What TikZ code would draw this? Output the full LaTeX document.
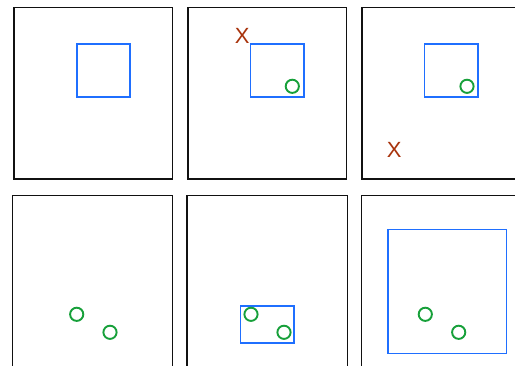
\documentclass[tikz,border=0pt]{standalone}
\usepackage{fontspec}
\newfontfamily\xfont{Liberation Sans}
\definecolor{frameblk}{HTML}{111111}
\definecolor{boxblue}{HTML}{1F6FFF}
\definecolor{ringgreen}{HTML}{17A03A}
\definecolor{xred}{HTML}{A8330C}
\tikzset{
  panel/.style={draw=frameblk, line width=1.2pt},
  bluebox/.style={draw=boxblue, line width=1.3pt},
  ring/.style={draw=ringgreen, line width=1.9pt},
  xmark/.style={text=xred, font=\xfont\fontsize{22}{22}\selectfont, inner sep=0pt},
}
\begin{document}
\begin{tikzpicture}[x=1pt,y=-1pt]
\useasboundingbox (0,0) rectangle (515,366);
\clip (0,0) rectangle (515,366);
% row 1
\draw[panel] (14,7.5) rectangle (172.5,179);
\draw[panel] (188,7.5) rectangle (346.5,179);
\draw[panel] (362,7.5) rectangle (522,179);
\draw[bluebox] (77,44) rectangle (130,97);
\draw[bluebox] (250.5,44) rectangle (304,97);
\draw[bluebox] (424.5,44) rectangle (478,97);
\node[xmark] (x1) at (242.3,35.5) {X};
\node[xmark] (x2) at (394.3,150) {X};
\draw[ring] (292.3,86.3) circle (6.6);
\draw[ring] (467,86.3) circle (6.6);
% row 2
\draw[panel] (12.5,195.5) rectangle (172.8,372);
\draw[panel] (187,195.5) rectangle (347.2,372);
\draw[panel] (361.5,195.5) rectangle (522,372);
\draw[ring] (76.7,314.3) circle (6.6);
\draw[ring] (110,332.3) circle (6.6);
\draw[bluebox] (240.3,306) rectangle (294,343);
\draw[ring] (251,314.3) circle (6.6);
\draw[ring] (284,332.3) circle (6.6);
\draw[bluebox] (388,229.5) rectangle (506.2,353.3);
\draw[ring] (425.3,314.3) circle (6.6);
\draw[ring] (458.7,332.3) circle (6.6);
\end{tikzpicture}
\end{document}
